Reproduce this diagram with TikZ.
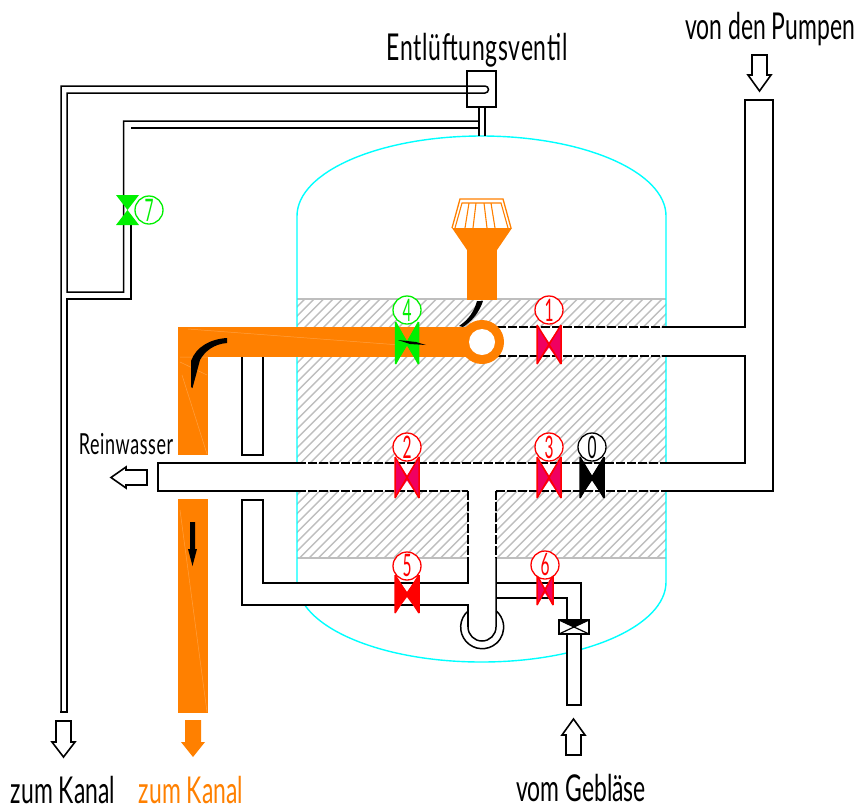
\documentclass[tikz,border=0pt]{standalone}
\usepackage{fontspec}
\setmainfont{Lato}
\newfontfamily\cad[FakeStretch=0.62]{Lato}
\newfontfamily\cadwide[FakeStretch=0.62,LetterSpace=2]{Lato}
\newfontfamily\caddigit[FakeStretch=0.5]{Lato}
\definecolor{orng}{HTML}{FF8000}
\definecolor{magn}{HTML}{F00060}
\definecolor{rd}{HTML}{FF0000}
\definecolor{grn}{HTML}{00F000}
\definecolor{cyn}{HTML}{00FFFF}
\definecolor{hatchg}{HTML}{BEBEBE}
\tikzset{
  pipe/.style={draw=black,line width=1.5pt,line join=miter},
  dpipe/.style={draw=black,line width=1.4pt,dash pattern=on 9pt off 2pt},
  txt/.style={inner sep=0pt,anchor=base,font=\cad\fontsize{37}{37}\selectfont},
  lbl/.style={circle,draw=#1,text=#1,fill=white,line width=1.3pt,minimum size=28pt,inner sep=0pt,font=\caddigit\fontsize{31}{31}\selectfont},
  hollow/.style={draw=black,line width=1.6pt,fill=white,line join=miter},
  seam/.style={draw=orng!75!white,line width=.5pt},
}
% valve: centre x, top y, bottom y, half width, fill colour, line colour
\newcommand{\bowvalve}[6]{%
  \fill[#5] (#1-#4,#2) -- (#1,{(#2+#3)/2-2}) -- (#1+#4,#2) -- (#1+#4,#3) -- (#1,{(#2+#3)/2+3}) -- (#1-#4,#3) -- cycle;
  \draw[#6,line width=1.5pt] (#1-#4,#2) -- (#1+#4,#3) (#1+#4,#2) -- (#1-#4,#3)
    (#1-#4,#2) -- (#1-#4,#3) (#1+#4,#2) -- (#1+#4,#3);
}
\begin{document}
\begin{tikzpicture}[x=1pt,y=-1pt]
\useasboundingbox (0,0) rectangle (861,807);
% hatching
\begin{scope}
\clip (297,299) rectangle (666,558);
\foreach \k in {0,...,72}{
  \draw[hatchg,line width=1.4pt] ({15+\k*9.4},570) -- ({15+\k*9.4+290},280);
}
\end{scope}
\draw[hatchg,line width=1.6pt] (297,299) -- (666,299) (297,558) -- (666,558);
% vessel
\draw[cyn,line width=1.4pt] (297,583) -- (297,216) arc[start angle=180,end angle=360,x radius=184.5,y radius=80] -- (666,582)
  arc[start angle=0,end angle=180,x radius=184.5,y radius=80];
% white pipe interiors
\fill[white] (297,328) rectangle (745,355);
\fill[white] (150,464) rectangle (772,490);
\fill[white] (469,490) rectangle (495,604);
\fill[white] (264,584) rectangle (468,604);
\fill[white] (497,585) rectangle (580,597);
\fill[white] (568,597) rectangle (580,705);
\fill[white] (746,101) rectangle (772,490);
% hatch-region lines (dashed)
\draw[dpipe] (497,327) -- (666,327) (497,356) -- (666,356);
\draw[dpipe] (297,463) -- (666,463);
\draw[dpipe] (297,491) -- (468,491) (496,491) -- (666,491);
\draw[dpipe] (468,491) -- (468,558) (496,491) -- (496,558);
% right riser
\draw[pipe] (666,327) -- (745,327) -- (745,100) -- (773,100) -- (773,491) -- (666,491);
\draw[pipe] (666,356) -- (745,356) -- (745,463) -- (666,463);
% main horizontal
\draw[pipe] (297,463) -- (158,463) -- (158,491) -- (297,491);
% lower collector
\draw[pipe] (468,558) -- (468,583) -- (263,583) -- (263,500) -- (242,500) -- (242,605) -- (468,605) -- (468,627);
\draw[pipe] (242,356) -- (242,455) -- (263,455) -- (263,356);
% U trap
\draw[pipe] (496,558) -- (496,627) arc[start angle=0,end angle=180,radius=14];
\draw[pipe] (468,611) arc[start angle=228.8,end angle=-48.8,radius=21.5];
% blower pipe
\draw[pipe] (496,583) -- (581,583) -- (581,705) -- (567,705) -- (567,598) -- (496,598);
% blower valve
\draw[pipe,fill=white] (559,620) rectangle (589,634);
\fill[black] (559,620) -- (589,620) -- (574,627) -- cycle;
\draw[black,line width=1.2pt] (559,620) -- (589,634) (589,620) -- (559,634);
% venting lines
\draw[pipe] (61,712) -- (61,86) -- (485,86) arc[start angle=-90,end angle=90,radius=3.5] -- (67,93) -- (67,292) -- (123.5,292) -- (123.5,121) -- (479,121) ;
\draw[pipe] (67,712) -- (67,299) -- (131,299) -- (131,225);
\draw[pipe] (60,712) -- (68,712);
\draw[pipe] (131,128) -- (479,128);
\draw[pipe] (467,71) rectangle (496,107);
\draw[pipe] (479,107) -- (479,136) (485,107) -- (485,136);
% orange
\fill[orng] (178,327) rectangle (470,357);
\fill[orng] (178,357) rectangle (208,455);
\fill[orng] (178,499) rectangle (208,713);
\fill[orng] (467,250) rectangle (497,300);
\fill[orng] (452,228) -- (512,228) -- (497,250) -- (467,250) -- cycle;
\fill[orng] (482,342) circle[radius=22];
\fill[white] (482,342) circle[radius=13];
\draw[orng,line width=1.3pt,line join=miter] (452,228) -- (460,199) -- (503,199) -- (511,228);
\draw[orng,line width=1.1pt] (455,228) -- (462,203) -- (501,203) -- (508,228)
  (469,203) -- (465,228) (476,203) -- (473,228) (484,203) -- (487,228) (491,203) -- (495,228);
\draw[seam] (188,329) -- (400,345) (180,357) -- (208,357) (180,362) -- (207,375) (182,375) -- (207,454);
\draw[seam] (180,510) -- (207,712);
% black flow arrows
\fill[black] (483,301) .. controls (479,313) and (472,321) .. (463,327) -- (459,326) .. controls (468,320) and (474,312) .. (477,301) -- cycle;
\fill[black] (227,338) .. controls (210,339) and (196,347) .. (191,361) -- (191,387) -- (192.5,388) -- (200,360) .. controls (205,351) and (214,344) .. (227,343) -- cycle;
\fill[black] (190,522) -- (195,522) -- (195,549) -- (197,549) -- (192.5,566) -- (188,549) -- (190,549) -- cycle;
% valves
\bowvalve{549}{325}{364}{12}{magn}{rd}
\bowvalve{407}{457}{498}{12}{magn}{rd}
\bowvalve{549}{457}{498}{12}{magn}{rd}
\bowvalve{592}{457}{498}{12}{black}{black}
\bowvalve{407}{575}{613}{12}{rd}{rd}
\bowvalve{545}{575}{605}{8}{magn}{rd}
\bowvalve{407}{322}{364}{11.5}{grn}{grn}
\fill[orng] (402,329) -- (412,329) -- (407,340) -- cycle;
\fill[orng] (402,356) -- (412,356) -- (407,346) -- cycle;
\fill[black] (398,340) -- (416,342) -- (426,345) -- (410,344) -- cycle;
% valve 7
\fill[grn] (116,195) -- (139,195) -- (116,225) -- (139,225) -- cycle;
% labels
\node[lbl=rd] (v1) at (549,310) {1};
\node[lbl=grn] (v4) at (407,310) {4};
\node[lbl=rd] (v2) at (407,447) {2};
\node[lbl=rd] (v3) at (549,447) {3};
\node[lbl=black] (v0) at (592,447) {0};
\node[lbl=rd] (v5) at (407,566) {5};
\node[lbl=rd] (v6) at (545,565) {6};
\node[lbl=grn] (v7) at (149,210) {7};
% hollow arrows
\draw[hollow] (752,55) -- (767,55) -- (767,75) -- (771,75) -- (759.5,91) -- (748,75) -- (752,75) -- cycle;
\draw[hollow] (147,470) -- (126,470) -- (126,467) -- (111,477.5) -- (126,488) -- (126,485) -- (147,485) -- cycle;
\draw[hollow] (56,721) -- (71,721) -- (71,742) -- (75,742) -- (63.5,757) -- (52,742) -- (56,742) -- cycle;
\fill[orng] (185,720) -- (201,720) -- (201,742) -- (205,742) -- (193,757) -- (181,742) -- (185,742) -- cycle;
\draw[hollow] (566,755) -- (581,755) -- (581,735) -- (585,735) -- (573.5,719) -- (562,735) -- (566,735) -- cycle;
% text
\node[txt,font=\cadwide\fontsize{37}{37}\selectfont] (t1) at (477,60) {Entlüftungsventil};
\node[txt] (t2) at (770,39) {von den Pumpen};
\node[txt,font=\cadwide\fontsize{29}{29}\selectfont] (t3) at (126,454) {Reinwasser};
\node[txt] (t4) at (63,803) {zum Kanal};
\node[txt,text=orng] (t5) at (191,803) {zum Kanal};
\node[txt] (t6) at (581,801) {vom Gebläse};
\end{tikzpicture}
\end{document}
